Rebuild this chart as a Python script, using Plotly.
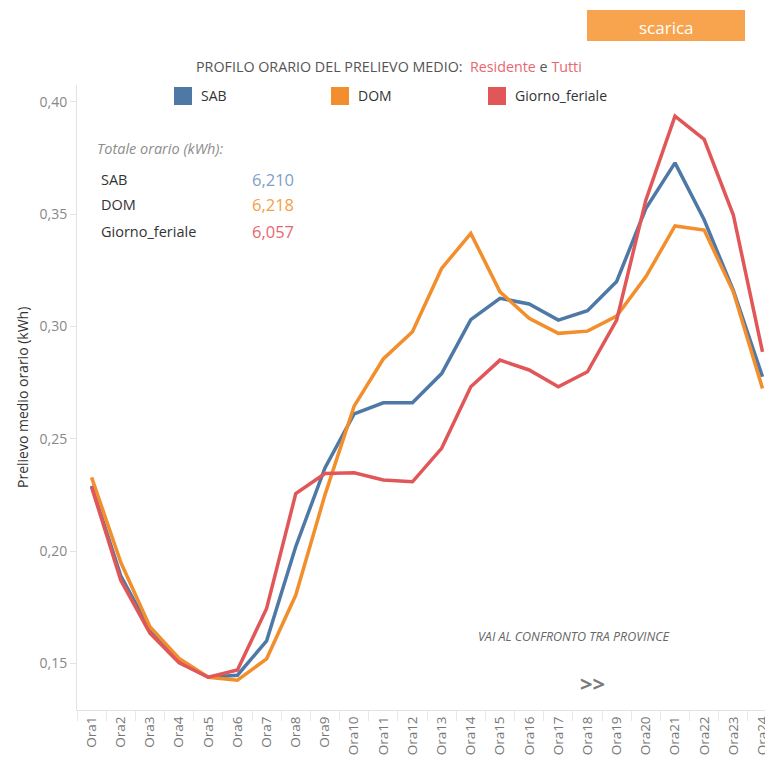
import plotly.graph_objects as go

hours = ["Ora" + str(i) for i in range(1, 25)]
sab = [0.229, 0.189, 0.165, 0.151, 0.1438, 0.1447, 0.160, 0.202, 0.237, 0.261, 0.266, 0.266,
       0.279, 0.303, 0.3125, 0.310, 0.3028, 0.307, 0.320, 0.3525, 0.3728, 0.3475, 0.316, 0.2776]
dom = [0.2328, 0.195, 0.1663, 0.1522, 0.1438, 0.1425, 0.152, 0.1804, 0.225, 0.2645, 0.2855, 0.2976,
       0.3258, 0.3414, 0.3154, 0.3036, 0.2969, 0.2979, 0.3046, 0.3221, 0.3447, 0.3429, 0.3154, 0.2724]
fer = [0.2285, 0.187, 0.1634, 0.1502, 0.1438, 0.147, 0.1744, 0.2256, 0.2345, 0.2348, 0.2316, 0.2308,
       0.2457, 0.2731, 0.285, 0.2806, 0.2731, 0.2798, 0.3028, 0.3562, 0.3936, 0.3833, 0.3496, 0.2887]
series_names = ["SAB", "DOM", "Giorno_feriale"]
totals = ["6,210", "6,218", "6,057"]
y_ticks = [0.15, 0.20, 0.25, 0.30, 0.35, 0.40]

colors = ["#4e79a7", "#f28e2b", "#e15759"]
value_colors = ["#7f9fc8", "#f5a043", "#e8676f"]

W_FIG, H_FIG = 765, 760
L, T = 77, 85          # plot area top-left in pixels
PW = W_FIG - L
PH = 625
B = H_FIG - T - PH


def px(x):
    return (x - L) / PW


def py(y):
    return (T + PH - y) / PH


FONT = "Open Sans"

fig = go.Figure()
for name, vals, c in zip(series_names, [sab, dom, fer], colors):
    fig.add_trace(go.Scatter(x=hours, y=vals, mode="lines", name=name,
                             line=dict(color=c, width=3.5), showlegend=False))

ann = []
shapes = []


def text(t, x, y, size, color, xa="center", **kw):
    ann.append(dict(text=t, x=px(x), y=py(y), xref="paper", yref="paper", xanchor=xa,
                    yanchor="middle", showarrow=False,
                    font=dict(color=color, size=size, family=FONT), **kw))


# scarica button
shapes.append(dict(type="rect", xref="paper", yref="paper", x0=px(587), x1=px(745),
                   y0=py(41), y1=py(10), fillcolor="#f8a44f", line=dict(width=0), layer="above"))
text("scarica", 666, 27, 17, "white")

# title
text("PROFILO ORARIO DEL PRELIEVO MEDIO:  <span style='color:#e8676f'>Residente</span> e "
     "<span style='color:#e8676f'>Tutti</span>", 389, 66, 14.3, "#555555")

# legend
leg_sq = [174, 331, 488]
for name, c, x0 in zip(series_names, colors, leg_sq):
    shapes.append(dict(type="rect", xref="paper", yref="paper", x0=px(x0), x1=px(x0 + 18),
                       y0=py(105), y1=py(87), fillcolor=c, line=dict(width=0)))
    text(name, x0 + 25, 96, 14, "#333333", xa="left")

# totals block
text("<i>Totale orario (kWh):</i>", 95, 148, 14.5, "#8c8c8c", xa="left")
for i, (name, tot, vc) in enumerate(zip(series_names, totals, value_colors)):
    yy = 179 + 26 * i
    text(name, 99, yy, 14.5, "#333333", xa="left")
    text(tot, 296, yy, 16.5, vc, xa="right")

# y axis title
text("Prelievo medio orario (kWh)", 22, 398, 14, "#333333", textangle=-90)

# bottom texts
text("<i>VAI AL CONFRONTO TRA PROVINCE</i>", 574, 636, 12.5, "#666666")
text("<b>&gt;&gt;</b>", 592, 683, 22, "#7a7a7a")

y_lo = 0.15 - (710 - 663.3) / 2246
y_hi = y_lo + PH / 2246
x_hi = -0.5 + PW / 29.17

fig.update_layout(
    width=W_FIG, height=H_FIG,
    margin=dict(l=L, r=0, t=T, b=B, autoexpand=False),
    plot_bgcolor="white", paper_bgcolor="white",
    separators=",.",
    font=dict(family=FONT),
    annotations=ann, shapes=shapes,
    xaxis=dict(type="category", range=[-0.5, x_hi], tickangle=-90, showgrid=False,
               automargin=False,
               showline=True, linecolor="#e3e3e3", linewidth=1,
               ticks="outside", tickson="boundaries", ticklen=10, tickcolor="#e8e8e8",
               tickfont=dict(color="#777777", size=13.5, family=FONT), zeroline=False),
    yaxis=dict(range=[y_lo, y_hi], tickvals=y_ticks, tickformat=".2f", showgrid=False,
               automargin=False,
               showline=True, linecolor="#e3e3e3", linewidth=1,
               ticks="outside", ticklen=6, tickcolor="#e3e3e3",
               tickfont=dict(color="#888888", size=14, family=FONT), zeroline=False),
)

fig.write_html("out.html", config={"displayModeBar": False},
               post_script="document.body.style.margin='0';document.body.style.overflow='hidden';")
